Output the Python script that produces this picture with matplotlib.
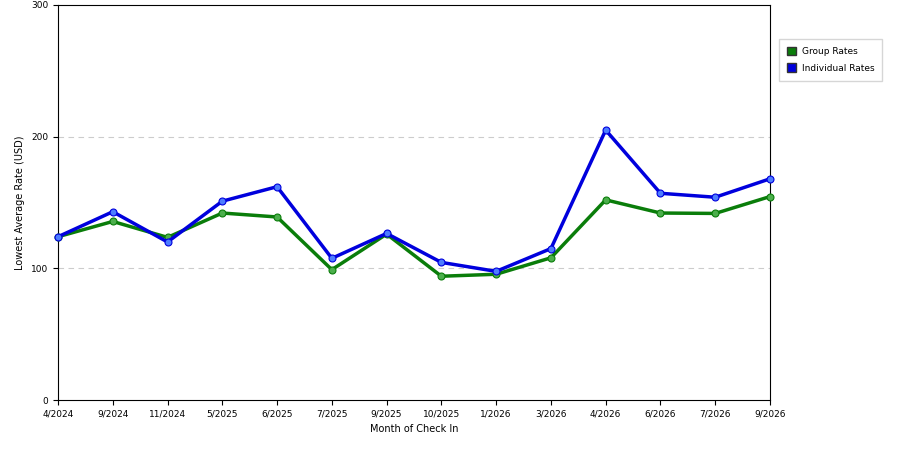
import matplotlib
matplotlib.use("Agg")
import matplotlib.pyplot as plt
from matplotlib.patches import Patch

months = ["4/2024","9/2024","11/2024","5/2025","6/2025","7/2025","9/2025","10/2025","1/2026","3/2026","4/2026","6/2026","7/2026","9/2026"]
group_rates = [124, 135.6, 123.5, 142, 139, 99, 126, 94, 95.5, 108, 152, 142, 141.7, 154.5]
individual_rates = [124, 143, 120, 151, 162, 107.6, 126.5, 104.5, 97.7, 115, 205, 157, 154, 168]

fig = plt.figure(figsize=(9, 4.5), dpi=100)
ax = fig.add_axes([58/900, 50/450, 712/900, 395/450])
x = list(range(len(months)))
ax.plot(x, group_rates, color="#0a7d0a", lw=2.5, marker="o", ms=5,
        mfc="#4caf4c", mec="#0a7d0a", mew=0.8, zorder=3, clip_on=False)
ax.plot(x, individual_rates, color="#0000dd", lw=2.5, marker="o", ms=5,
        mfc="#4d7dff", mec="#0000dd", mew=0.8, zorder=4, clip_on=False)
ax.set_xlim(0, len(months)-1)
ax.set_ylim(0, 300)
ax.set_yticks([0, 100, 200, 300])
ax.set_xticks(x)
ax.set_xticklabels(months, fontsize=6.5)
ax.tick_params(axis="y", labelsize=6.5)
for y in (100, 200):
    ax.axhline(y, color="#cccccc", ls=(0, (5, 4)), lw=0.8, zorder=1)
ax.set_xlabel("Month of Check In", fontsize=7)
ax.set_ylabel("Lowest Average Rate (USD)", fontsize=7)
handles = [Patch(facecolor="#0a7d0a", edgecolor="#333333", label="Group Rates"),
           Patch(facecolor="#0000dd", edgecolor="#333333", label="Individual Rates")]
fig.legend(handles=handles, loc="upper left", bbox_to_anchor=(779/900, 1-39/450),
           fontsize=6.5, frameon=True, fancybox=False, edgecolor="#cccccc",
           handlelength=1.0, handleheight=1.0, handletextpad=0.6,
           borderpad=0.9, labelspacing=0.8, borderaxespad=0)
fig.savefig("out.png", dpi=100)
